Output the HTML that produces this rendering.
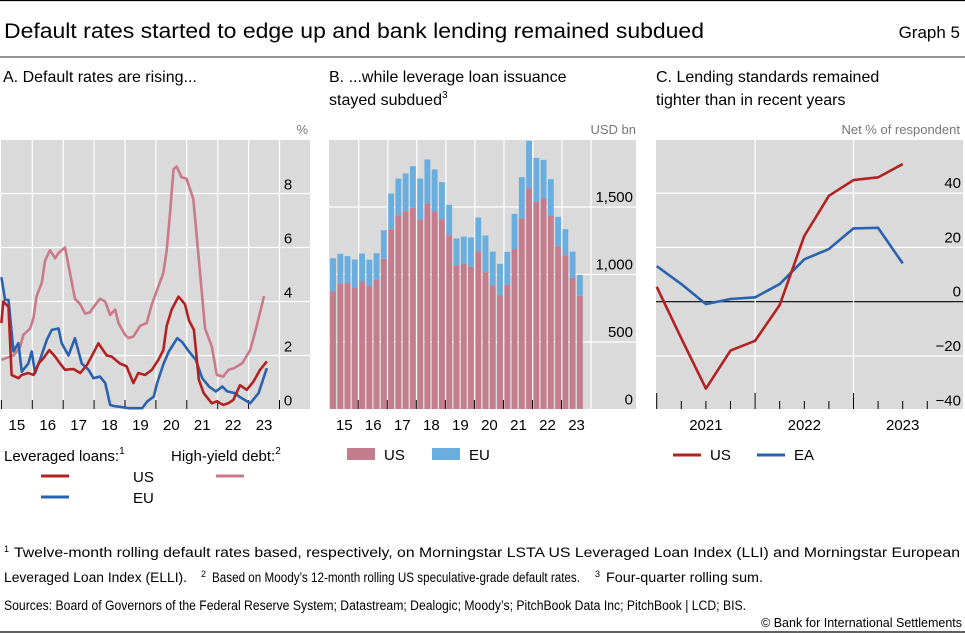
<!DOCTYPE html>
<html><head><meta charset="utf-8"><style>
body{margin:0;background:#fff;}
svg{display:block;font-family:"Liberation Sans",sans-serif;}
</style></head><body>
<svg id="chart" width="965" height="633" viewBox="0 0 965 633" xmlns="http://www.w3.org/2000/svg">
<line x1="0" y1="0.5" x2="965" y2="0.5" stroke="#000" stroke-width="1.2"/>
<text x="4" y="38" font-size="21" textLength="700" lengthAdjust="spacingAndGlyphs">Default rates started to edge up and bank lending remained subdued</text>
<text x="960" y="38" font-size="17" text-anchor="end">Graph 5</text>
<line x1="0" y1="57" x2="965" y2="57" stroke="#555" stroke-width="1.2"/>
<text x="3" y="82" font-size="16">A. Default rates are rising...</text>
<text x="329" y="82" font-size="16">B. ...while leverage loan issuance</text>
<text x="329" y="105" font-size="16">stayed subdued<tspan font-size="10" dy="-7">3</tspan></text>
<text x="656" y="82" font-size="16">C. Lending standards remained</text>
<text x="656" y="105" font-size="16">tighter than in recent years</text>
<text x="308" y="134" font-size="13" fill="#777" text-anchor="end">%</text>
<text x="636" y="134" font-size="13" fill="#777" text-anchor="end">USD bn</text>
<text x="960" y="134" font-size="13" fill="#777" text-anchor="end">Net % of respondent</text>
<g id="pa"></g><g id="pb"></g><g id="pc"></g>
<!-- legends -->
<text x="4" y="461" font-size="15">Leveraged loans:<tspan font-size="10" dy="-7">1</tspan></text>
<line x1="41" y1="476" x2="69" y2="476" stroke="#b22222" stroke-width="3"/>
<text x="133" y="482" font-size="15">US</text>
<line x1="41" y1="497" x2="69" y2="497" stroke="#2a62b0" stroke-width="3"/>
<text x="133" y="503" font-size="15">EU</text>
<text x="171" y="461" font-size="15">High-yield debt:<tspan font-size="10" dy="-7">2</tspan></text>
<line x1="216" y1="476" x2="244" y2="476" stroke="#c97a8a" stroke-width="3"/>
<rect x="347" y="448" width="28" height="12" fill="#c47d8c"/>
<text x="384" y="460" font-size="15">US</text>
<rect x="432" y="448" width="28" height="12" fill="#6aaee0"/>
<text x="469" y="460" font-size="15">EU</text>
<line x1="673" y1="455" x2="701" y2="455" stroke="#b22222" stroke-width="3"/>
<text x="710" y="460" font-size="15">US</text>
<line x1="757" y1="455" x2="785" y2="455" stroke="#2a62b0" stroke-width="3"/>
<text x="794" y="460" font-size="15">EA</text>
<text x="4" y="552" font-size="9">1</text>
<text x="14" y="557" font-size="13.5" textLength="946" lengthAdjust="spacingAndGlyphs">Twelve-month rolling default rates based, respectively, on Morningstar LSTA US Leveraged Loan Index (LLI) and Morningstar European</text>
<text x="4" y="582" font-size="13.5" textLength="183" lengthAdjust="spacingAndGlyphs">Leveraged Loan Index (ELLI).</text>
<text x="201" y="577" font-size="9">2</text>
<text x="212" y="582" font-size="13.5" textLength="368" lengthAdjust="spacingAndGlyphs">Based on Moody’s 12-month rolling US speculative-grade default rates.</text>
<text x="595" y="577" font-size="9">3</text>
<text x="606" y="582" font-size="13.5" textLength="157" lengthAdjust="spacingAndGlyphs">Four-quarter rolling sum.</text>
<text x="4" y="610" font-size="13.5" textLength="742" lengthAdjust="spacingAndGlyphs">Sources: Board of Governors of the Federal Reserve System; Datastream; Dealogic; Moody’s; PitchBook Data Inc; PitchBook | LCD; BIS.</text>
<text x="962" y="627" font-size="12.5" text-anchor="end">© Bank for International Settlements</text>
<line x1="0" y1="632" x2="965" y2="632" stroke="#000" stroke-width="1.2"/>
</svg>
<script>
// Panel A data (dates in decimal years, values in %)
const hyDates=[2015.0,2015.39,2015.6,2015.71,2015.93,2016.04,2016.14,2016.31,2016.41,2016.57,2016.74,2016.85,2017.06,2017.22,2017.38,2017.55,2017.71,2017.87,2017.92,2018.19,2018.36,2018.52,2018.68,2018.79,2019.0,2019.11,2019.27,2019.49,2019.70,2019.87,2020.03,2020.24,2020.35,2020.46,2020.57,2020.67,2020.83,2020.99,2021.21,2021.43,2021.59,2021.81,2021.97,2022.18,2022.35,2022.53,2022.80,2023.05,2023.23,2023.50];
const hyVals=[1.84,2.0,2.3,2.76,3.0,3.4,4.2,4.7,5.5,5.9,5.6,5.8,6.0,5.05,4.1,3.9,3.55,3.6,3.7,4.1,4.0,3.5,3.7,3.2,2.77,2.65,2.7,3.1,3.2,3.9,4.4,5.05,5.9,7.3,8.9,9.0,8.6,8.55,7.8,5.05,3.0,2.33,1.28,1.22,1.47,1.53,1.72,2.2,2.95,4.2];
const usDates=[2015.0,2015.06,2015.23,2015.33,2015.55,2015.66,2015.87,2016.04,2016.20,2016.36,2016.55,2016.74,2016.90,2017.06,2017.33,2017.55,2017.77,2017.98,2018.14,2018.41,2018.57,2018.84,2019.05,2019.27,2019.43,2019.65,2019.87,2020.08,2020.24,2020.35,2020.51,2020.73,2020.94,2021.07,2021.23,2021.39,2021.55,2021.81,2021.97,2022.18,2022.34,2022.51,2022.72,2022.94,2023.16,2023.37,2023.59];
const usVals=[3.2,4.0,3.8,1.28,1.16,1.28,1.35,1.28,1.7,1.9,2.2,1.96,1.7,1.47,1.5,1.35,1.65,2.1,2.45,2.0,1.96,1.7,1.6,0.98,1.35,1.28,1.47,1.84,2.2,3.1,3.7,4.18,3.9,3.3,2.95,1.1,0.6,0.23,0.3,0.17,0.23,0.36,0.9,0.73,1.04,1.47,1.78];
const euDates=[2015.0,2015.12,2015.23,2015.39,2015.55,2015.66,2015.87,2015.98,2016.09,2016.25,2016.47,2016.63,2016.85,2016.95,2017.17,2017.38,2017.60,2017.82,2017.98,2018.19,2018.36,2018.52,2018.63,2018.84,2019.11,2019.56,2019.72,2019.93,2020.04,2020.25,2020.42,2020.69,2020.85,2021.07,2021.29,2021.50,2021.72,2021.94,2022.15,2022.31,2022.58,2022.69,2023.05,2023.32,2023.59];
const euVals=[4.9,4.06,4.06,2.15,2.46,1.4,1.7,2.15,1.35,1.84,2.58,2.95,3.0,2.46,2.0,2.64,1.7,1.47,1.16,1.22,0.98,0.17,0.13,0.1,0.05,0.05,0.3,0.48,0.98,1.7,2.15,2.64,2.5,2.15,1.84,1.16,0.85,0.67,0.85,0.67,0.6,0.48,0.23,0.6,1.53];
const aYearLabels=["15","16","17","18","19","20","21","22","23"];
const aTicks=[0,2,4,6,8];
// Panel B data (quarterly, 2015Q1-2023Q3, USD bn)
const bUS=[874,933,936,901,948,916,960,1116,1336,1439,1469,1494,1407,1526,1467,1410,1291,1069,1079,1057,1170,1017,918,847,923,1188,1415,1637,1538,1563,1439,1210,1143,975,842];
const bTotal=[1121,1153,1136,1111,1155,1109,1158,1328,1600,1711,1748,1802,1711,1852,1778,1684,1516,1267,1281,1274,1422,1289,1170,1079,1168,1449,1721,1990,1864,1849,1706,1427,1336,1170,997];
const bYearLabels=["15","16","17","18","19","20","21","22","23"];
const bTicks=[0,500,1000,1500];
// Panel C data (quarterly)
const cUS=[5.5,-13.5,-32,-18,-14.4,-1.2,24.2,39,44.8,45.8,50.7];
const cEA=[13.1,6.5,-0.9,1,1.6,6.5,15.6,19.4,27,27.2,14.1];
const cYearLabels=["2021","2022","2023"];
const cTicks=[-40,-20,0,20,40];

const NS="http://www.w3.org/2000/svg";
function mk(parent,tag,attrs){const e=document.createElementNS(NS,tag);for(const k in attrs)e.setAttribute(k,attrs[k]);parent.appendChild(e);return e;}
const BG="#dadada";

// ---- Panel A ----
(function(){
 const g=document.getElementById('pa');
 const L=1,R=310,T=140,B=409;
 const xA=t=>1.4+(t-2015)*30.9;
 const yA=v=>409.5-v*27;
 const bg=mk(g,'rect',{x:L,y:T,width:R-L,height:B-T,fill:BG});
 
 aTicks.forEach(v=>{
  if(v>0){const l=mk(g,'line',{x1:L,x2:R,y1:yA(v),y2:yA(v),stroke:'#fff','stroke-width':1.2});
  }
  const t=mk(g,'text',{x:288,y:yA(v)-4,'font-size':15,'text-anchor':'middle'});t.textContent=v;
  
 });
 for(let i=0;i<=9;i++){const x=xA(2015+i);
  if(i>0){const l=mk(g,'line',{x1:x,x2:x,y1:T,y2:B,stroke:'#fff','stroke-width':1.2});
  }
  const k=mk(g,'line',{x1:x,x2:x,y1:B-9,y2:B,stroke:'#000','stroke-width':1});
  }
 aYearLabels.forEach((s,i)=>{const t=mk(g,'text',{x:xA(2015.5+i),y:430,'font-size':15,'text-anchor':'middle'});t.textContent=s;
  });
 function line(d,v,c,name){const p=mk(g,'polyline',{points:d.map((t,i)=>xA(t)+','+yA(v[i])).join(' '),fill:'none',stroke:c,'stroke-width':2.6,'stroke-linejoin':'round'});
  }
 line(hyDates,hyVals,'#c97a8a','high-yield-us-line');
 line(euDates,euVals,'#2a62b0','leveraged-loans-eu-line');
 line(usDates,usVals,'#b22222','leveraged-loans-us-line');
})();

// ---- Panel B ----
(function(){
 const g=document.getElementById('pb');
 const L=329,R=636,T=140,B=409;
 const yB=v=>409.5-v*0.135;
 const pitch=7.26, x0=329.7;
 const bg=mk(g,'rect',{x:L,y:T,width:R-L,height:B-T,fill:BG});
 
 bTicks.forEach(v=>{
  if(v>0){const l=mk(g,'line',{x1:L,x2:R,y1:yB(v),y2:yB(v),stroke:'#fff','stroke-width':1.2});
  }
  const t=mk(g,'text',{x:633,y:yB(v)-5,'font-size':15,'text-anchor':'end'});t.textContent=v.toLocaleString('en-US');
  
 });
 for(let i=1;i<=9;i++){const x=x0+i*4*pitch;
  const l=mk(g,'line',{x1:x,x2:x,y1:T,y2:B,stroke:'#fff','stroke-width':1.2});
  }
 bTotal.forEach((tot,i)=>{const x=x0+i*pitch+0.4,w=pitch-1.4;
  const eu=mk(g,'rect',{x:x,y:yB(tot),width:w,height:yB(bUS[i])-yB(tot),fill:'#6aaee0'});
  
  const us=mk(g,'rect',{x:x,y:yB(bUS[i]),width:w,height:B-yB(bUS[i]),fill:'#c47d8c'});
  });
 for(let i=1;i<=8;i++){const x=x0+i*4*pitch-0.5;
  const k=mk(g,'line',{x1:x,x2:x,y1:B-9,y2:B,stroke:'#000','stroke-width':1});
  }
 bYearLabels.forEach((s,i)=>{const t=mk(g,'text',{x:x0+(i*4+2)*pitch,y:430,'font-size':15,'text-anchor':'middle'});t.textContent=s;
  });
})();

// ---- Panel C ----
(function(){
 const g=document.getElementById('pc');
 const L=656,R=963,T=140,B=409;
 const xC=i=>656.7+i*24.6;
 const yC=v=>301.7-v*2.715;
 const bg=mk(g,'rect',{x:L,y:T,width:R-L,height:B-T,fill:BG});
 
 cTicks.forEach(v=>{
  if(v>-40){const l=mk(g,'line',{x1:L,x2:R,y1:yC(v),y2:yC(v),stroke:v===0?'#000':'#fff','stroke-width':1.2});
  }
  const t=mk(g,'text',{x:961,y:yC(v)-5,'font-size':15,'text-anchor':'end'});t.textContent=v<0?'\u2212'+(-v):v;
  
 });
 [4,8].forEach(i=>{const l=mk(g,'line',{x1:xC(i),x2:xC(i),y1:T,y2:B,stroke:'#fff','stroke-width':1.2});
  });
 for(let i=0;i<=11;i++){const long=i%4===0;
  const k=mk(g,'line',{x1:xC(i),x2:xC(i),y1:B-(long?16:8),y2:B,stroke:'#000','stroke-width':1});
  }
 cYearLabels.forEach((s,i)=>{const t=mk(g,'text',{x:xC(2+4*i),y:430,'font-size':15,'text-anchor':'middle'});t.textContent=s;
  });
 function line(v,c,name){const p=mk(g,'polyline',{points:v.map((d,i)=>xC(i)+','+yC(d)).join(' '),fill:'none',stroke:c,'stroke-width':2.6,'stroke-linejoin':'round'});
  }
 line(cEA,'#2a62b0','ea-lending-standards-line');
 line(cUS,'#b22222','us-lending-standards-line');
})();
</script>
</body></html>
